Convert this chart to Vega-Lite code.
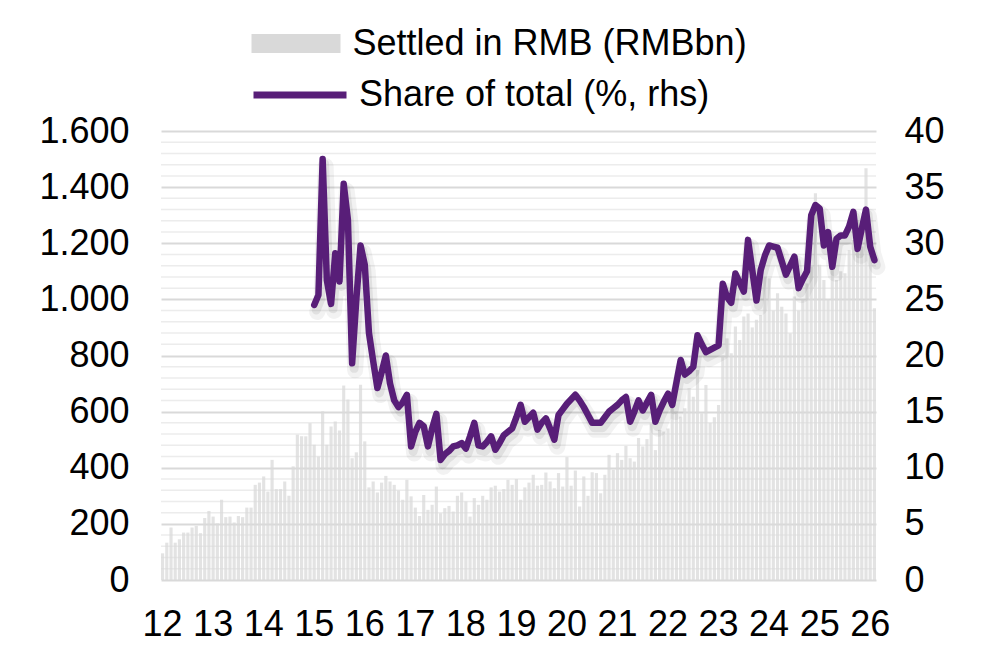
{
  "$schema": "https://vega.github.io/schema/vega-lite/v6.json",
  "autosize": "none",
  "width": 715,
  "height": 449,
  "padding": {"left": 161, "top": 131, "right": 129, "bottom": 87},
  "config": {"view": {"stroke": null}, "font": "Liberation Sans"},
  "datasets": {
    "months": [
      {"m":"2012-01","rmb":95},{"m":"2012-02","rmb":133},{"m":"2012-03","rmb":187},{"m":"2012-04","rmb":133},{"m":"2012-05","rmb":145},{"m":"2012-06","rmb":169},{"m":"2012-07","rmb":169},{"m":"2012-08","rmb":187},{"m":"2012-09","rmb":193},{"m":"2012-10","rmb":167},{"m":"2012-11","rmb":221},{"m":"2012-12","rmb":246},
      {"m":"2013-01","rmb":226},{"m":"2013-02","rmb":202},{"m":"2013-03","rmb":286},{"m":"2013-04","rmb":224},{"m":"2013-05","rmb":226},{"m":"2013-06","rmb":205},{"m":"2013-07","rmb":228},{"m":"2013-08","rmb":224},{"m":"2013-09","rmb":258},{"m":"2013-10","rmb":258},{"m":"2013-11","rmb":339},{"m":"2013-12","rmb":347},
      {"m":"2014-01","rmb":369},{"m":"2014-02","rmb":315},{"m":"2014-03","rmb":428},{"m":"2014-04","rmb":324},{"m":"2014-05","rmb":324},{"m":"2014-06","rmb":351},{"m":"2014-07","rmb":300},{"m":"2014-08","rmb":405},{"m":"2014-09","rmb":518},{"m":"2014-10","rmb":512},{"m":"2014-11","rmb":512},{"m":"2014-12","rmb":559},
      {"m":"2015-01","rmb":482,"share":24.5},{"m":"2015-02","rmb":440,"share":25.4},{"m":"2015-03","rmb":601,"share":37.5},{"m":"2015-04","rmb":482,"share":26.7},{"m":"2015-05","rmb":547,"share":24.6},{"m":"2015-06","rmb":565,"share":29.1},{"m":"2015-07","rmb":533,"share":26.6},{"m":"2015-08","rmb":693,"share":35.3},{"m":"2015-09","rmb":643,"share":32.1},{"m":"2015-10","rmb":434,"share":19.3},{"m":"2015-11","rmb":455,"share":25.0},{"m":"2015-12","rmb":696,"share":29.8},
      {"m":"2016-01","rmb":494,"share":28.1},{"m":"2016-02","rmb":330,"share":22.0},{"m":"2016-03","rmb":351,"share":19.5},{"m":"2016-04","rmb":312,"share":17.1},{"m":"2016-05","rmb":347,"share":18.5},{"m":"2016-06","rmb":371,"share":20.0},{"m":"2016-07","rmb":351,"share":17.5},{"m":"2016-08","rmb":339,"share":16.0},{"m":"2016-09","rmb":319,"share":15.4},{"m":"2016-10","rmb":286,"share":15.8},{"m":"2016-11","rmb":357,"share":16.5},{"m":"2016-12","rmb":298,"share":11.9},
      {"m":"2017-01","rmb":258,"share":13.2},{"m":"2017-02","rmb":228,"share":14.0},{"m":"2017-03","rmb":303,"share":13.7},{"m":"2017-04","rmb":250,"share":11.9},{"m":"2017-05","rmb":268,"share":13.5},{"m":"2017-06","rmb":333,"share":14.8},{"m":"2017-07","rmb":238,"share":10.7},{"m":"2017-08","rmb":256,"share":11.2},{"m":"2017-09","rmb":264,"share":11.5},{"m":"2017-10","rmb":244,"share":11.9},{"m":"2017-11","rmb":300,"share":12.0},{"m":"2017-12","rmb":312,"share":12.2},
      {"m":"2018-01","rmb":280,"share":11.7},{"m":"2018-02","rmb":226,"share":12.8},{"m":"2018-03","rmb":292,"share":14.0},{"m":"2018-04","rmb":268,"share":12.0},{"m":"2018-05","rmb":300,"share":11.9},{"m":"2018-06","rmb":286,"share":12.3},{"m":"2018-07","rmb":330,"share":12.8},{"m":"2018-08","rmb":336,"share":11.6},{"m":"2018-09","rmb":315,"share":12.2},{"m":"2018-10","rmb":324,"share":12.9},{"m":"2018-11","rmb":357,"share":13.2},{"m":"2018-12","rmb":339,"share":13.5},
      {"m":"2019-01","rmb":360,"share":14.5},{"m":"2019-02","rmb":286,"share":15.6},{"m":"2019-03","rmb":330,"share":14.1},{"m":"2019-04","rmb":347,"share":14.5},{"m":"2019-05","rmb":375,"share":14.9},{"m":"2019-06","rmb":336,"share":13.4},{"m":"2019-07","rmb":339,"share":14.0},{"m":"2019-08","rmb":383,"share":14.4},{"m":"2019-09","rmb":351,"share":13.5},{"m":"2019-10","rmb":327,"share":12.5},{"m":"2019-11","rmb":381,"share":14.7},{"m":"2019-12","rmb":333,"share":15.2},
      {"m":"2020-01","rmb":438,"share":15.7},{"m":"2020-02","rmb":336,"share":16.1},{"m":"2020-03","rmb":390,"share":16.5},{"m":"2020-04","rmb":262,"share":16.0},{"m":"2020-05","rmb":369,"share":15.4},{"m":"2020-06","rmb":300,"share":14.7},{"m":"2020-07","rmb":384,"share":14.0},{"m":"2020-08","rmb":381,"share":14.0},{"m":"2020-09","rmb":309,"share":14.0},{"m":"2020-10","rmb":375,"share":14.5},{"m":"2020-11","rmb":446,"share":15.0},{"m":"2020-12","rmb":393,"share":15.3},
      {"m":"2021-01","rmb":452,"share":15.6},{"m":"2021-02","rmb":428,"share":16.0},{"m":"2021-03","rmb":478,"share":16.3},{"m":"2021-04","rmb":434,"share":14.1},{"m":"2021-05","rmb":422,"share":15.0},{"m":"2021-06","rmb":506,"share":16.0},{"m":"2021-07","rmb":476,"share":15.1},{"m":"2021-08","rmb":502,"share":15.8},{"m":"2021-09","rmb":558,"share":16.5},{"m":"2021-10","rmb":463,"share":14.1},{"m":"2021-11","rmb":535,"share":15.1},{"m":"2021-12","rmb":529,"share":15.9},
      {"m":"2022-01","rmb":540,"share":16.6},{"m":"2022-02","rmb":618,"share":15.6},{"m":"2022-03","rmb":600,"share":17.6},{"m":"2022-04","rmb":582,"share":19.6},{"m":"2022-05","rmb":612,"share":18.3},{"m":"2022-06","rmb":683,"share":18.6},{"m":"2022-07","rmb":653,"share":19.0},{"m":"2022-08","rmb":748,"share":21.8},{"m":"2022-09","rmb":594,"share":21.0},{"m":"2022-10","rmb":695,"share":20.3},{"m":"2022-11","rmb":560,"share":20.5},{"m":"2022-12","rmb":580,"share":20.7},
      {"m":"2023-01","rmb":624,"share":20.9},{"m":"2023-02","rmb":800,"share":26.4},{"m":"2023-03","rmb":861,"share":25.2},{"m":"2023-04","rmb":808,"share":24.7},{"m":"2023-05","rmb":903,"share":27.3},{"m":"2023-06","rmb":855,"share":26.5},{"m":"2023-07","rmb":939,"share":25.7},{"m":"2023-08","rmb":950,"share":30.3},{"m":"2023-09","rmb":900,"share":27.6},{"m":"2023-10","rmb":927,"share":24.9},{"m":"2023-11","rmb":944,"share":27.6},{"m":"2023-12","rmb":1081,"share":28.9},
      {"m":"2024-01","rmb":1075,"share":29.8},{"m":"2024-02","rmb":960,"share":29.7},{"m":"2024-03","rmb":1022,"share":29.6},{"m":"2024-04","rmb":974,"share":28.4},{"m":"2024-05","rmb":950,"share":27.2},{"m":"2024-06","rmb":879,"share":28.0},{"m":"2024-07","rmb":1010,"share":28.8},{"m":"2024-08","rmb":960,"share":26.0},{"m":"2024-09","rmb":998,"share":26.8},{"m":"2024-10","rmb":1057,"share":27.5},{"m":"2024-11","rmb":1117,"share":32.5},{"m":"2024-12","rmb":1378,"share":33.4},
      {"m":"2025-01","rmb":1123,"share":33.1},{"m":"2025-02","rmb":1069,"share":29.8},{"m":"2025-03","rmb":1000,"share":31.0},{"m":"2025-04","rmb":1212,"share":27.9},{"m":"2025-05","rmb":1069,"share":30.4},{"m":"2025-06","rmb":1100,"share":30.7},{"m":"2025-07","rmb":1093,"share":30.7},{"m":"2025-08","rmb":1176,"share":31.5},{"m":"2025-09","rmb":1212,"share":32.8},{"m":"2025-10","rmb":1283,"share":29.5},{"m":"2025-11","rmb":1188,"share":31.3},{"m":"2025-12","rmb":1467,"share":33.0},
      {"m":"2026-01","rmb":1176,"share":29.7},{"m":"2026-02","rmb":968,"share":28.5}
    ],
    "minor": [
      {"v":40},{"v":80},{"v":120},{"v":160},{"v":240},{"v":280},{"v":320},{"v":360},{"v":440},{"v":480},{"v":520},{"v":560},{"v":640},{"v":680},{"v":720},{"v":760},{"v":840},{"v":880},{"v":920},{"v":960},{"v":1040},{"v":1080},{"v":1120},{"v":1160},{"v":1240},{"v":1280},{"v":1320},{"v":1360},{"v":1440},{"v":1480},{"v":1520},{"v":1560}
    ]
  },
  "layer": [
    {
      "layer": [
        {
          "data": {"name": "minor"},
          "mark": {"type": "rule", "color": "#ececec", "strokeWidth": 1.5},
          "encoding": {
            "y": {"field": "v", "type": "quantitative", "scale": {"domain": [0, 1600]}, "title": null,
              "axis": {"orient": "left", "values": [0,200,400,600,800,1000,1200,1400,1600], "grid": true, "gridColor": "#d9d9d9", "gridWidth": 2, "domain": false, "ticks": false, "labelFontSize": 36, "labelColor": "#000000", "labelPadding": 32, "labelExpr": "replace(format(datum.value, ','), ',', '.')", "title": null}}
          }
        },
        {
          "data": {"name": "months"},
          "mark": {"type": "bar", "opacity": 0.75},
          "encoding": {
            "x": {"field": "m", "type": "ordinal", "scale": {"paddingInner": 0.25, "paddingOuter": 0}, "title": null,
              "axis": {"values": ["2012-01","2013-01","2014-01","2015-01","2016-01","2017-01","2018-01","2019-01","2020-01","2021-01","2022-01","2023-01","2024-01","2025-01","2026-01"], "labelExpr": "substring(datum.value, 2, 4)", "labelAngle": 0, "domain": false, "ticks": false, "grid": false, "labelFontSize": 36, "labelColor": "#000000", "labelPadding": 27, "title": null}},
            "y": {"field": "rmb", "type": "quantitative", "scale": {"domain": [0, 1600]}, "title": null,
              "axis": {"orient": "left", "values": [0,200,400,600,800,1000,1200,1400,1600], "grid": true, "gridColor": "#d9d9d9", "gridWidth": 2, "domain": false, "ticks": false, "labelFontSize": 36, "labelColor": "#000000", "labelPadding": 32, "labelExpr": "replace(format(datum.value, ','), ',', '.')", "title": null}},
            "color": {"datum": "Settled in RMB (RMBbn)", "type": "nominal", "scale": {"range": ["#d9d9d9"]},
              "legend": {"orient": "none", "legendX": 90.5, "legendY": -132, "title": null, "padding": 0, "symbolType": "M-1,-0.2135H1V0.2135H-1Z", "symbolSize": 7921, "symbolStrokeWidth": 0, "symbolOpacity": 1, "labelFontSize": 36, "labelColor": "#000000", "labelOffset": 12, "labelLimit": 0}}
          }
        }
      ]
    },
    {
      "data": {"name": "months"},
      "layer": [
        {
          "mark": {"type": "line", "color": "#000000", "opacity": 0.05, "strokeWidth": 16, "strokeJoin": "round", "strokeCap": "round", "xOffset": 3, "yOffset": 7},
          "encoding": {
            "x": {"field": "m", "type": "ordinal", "title": null},
            "y": {"field": "share", "type": "quantitative", "scale": {"domain": [0, 40]}, "title": null,
              "axis": {"orient": "right", "values": [0,5,10,15,20,25,30,35,40], "grid": false, "domain": false, "ticks": false, "labelFontSize": 36, "labelColor": "#000000", "labelPadding": 28, "title": null}}
          }
        },
        {
          "mark": {"type": "line", "color": "#000000", "opacity": 0.07, "strokeWidth": 9, "strokeJoin": "round", "strokeCap": "round", "xOffset": 2, "yOffset": 5},
          "encoding": {
            "x": {"field": "m", "type": "ordinal", "title": null},
            "y": {"field": "share", "type": "quantitative", "scale": {"domain": [0, 40]}, "title": null,
              "axis": {"orient": "right", "values": [0,5,10,15,20,25,30,35,40], "grid": false, "domain": false, "ticks": false, "labelFontSize": 36, "labelColor": "#000000", "labelPadding": 28, "title": null}}
          }
        },
        {
          "mark": {"type": "line", "strokeWidth": 6.5, "strokeJoin": "round", "strokeCap": "round"},
          "encoding": {
            "x": {"field": "m", "type": "ordinal", "title": null},
            "y": {"field": "share", "type": "quantitative", "scale": {"domain": [0, 40]}, "title": null,
              "axis": {"orient": "right", "values": [0,5,10,15,20,25,30,35,40], "grid": false, "domain": false, "ticks": false, "labelFontSize": 36, "labelColor": "#000000", "labelPadding": 28, "title": null}},
            "stroke": {"datum": "Share of total (%, rhs)", "type": "nominal", "scale": {"range": ["#581e78"]},
              "legend": {"orient": "none", "legendX": 89, "legendY": -86, "title": null, "padding": 0, "symbolType": "stroke", "symbolSize": 8649, "symbolStrokeWidth": 7, "labelFontSize": 36, "labelColor": "#000000", "labelOffset": 9, "labelLimit": 0}}
          }
        }
      ]
    }
  ],
  "resolve": {"scale": {"y": "independent"}}
}
